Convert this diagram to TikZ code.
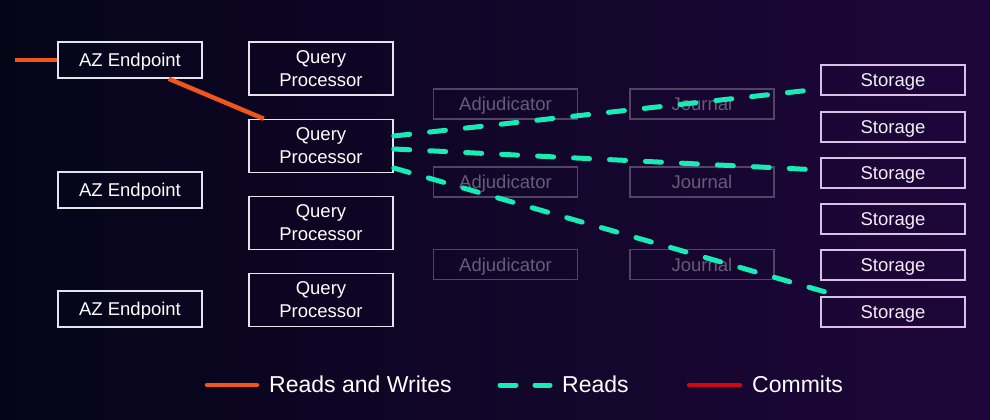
\documentclass[tikz,border=0pt]{standalone}
\usepackage{fontspec}
\setmainfont{Liberation Sans}
\definecolor{bgleft}{RGB}{5,5,24}
\definecolor{bgright}{RGB}{30,6,58}
\definecolor{boxline}{RGB}{228,228,238}
\definecolor{storline}{RGB}{218,192,228}
\definecolor{dimline}{RGB}{82,68,98}
\definecolor{dimtext}{RGB}{104,90,121}
\definecolor{rwcol}{RGB}{240,85,30}
\definecolor{readcol}{RGB}{25,235,180}
\definecolor{commitcol}{RGB}{205,10,20}
\tikzset{
  box/.style={draw=boxline, line width=1.5pt, text=white, minimum width=144pt,
    minimum height=36pt, inner sep=0pt, align=center, text depth=0pt,
    font=\fontsize{18.5}{23}\selectfont},
  qpbox/.style={box, minimum height=53pt},
  dimbox/.style={box, draw=dimline, text=dimtext, minimum height=30pt},
  storbox/.style={box, draw=storline, text={rgb,255:red,245;green,236;blue,248}, minimum height=30pt},
  rwline/.style={draw=rwcol, line width=4.5pt},
  readline/.style={draw=readcol, line width=5pt, line cap=round, dash pattern=on 16pt off 20pt},
  commitline/.style={draw=commitcol, line width=4.5pt},
  legtext/.style={text=white, anchor=west, inner sep=0pt, font=\fontsize{23}{26}\selectfont}
}
\begin{document}
\begin{tikzpicture}[x=1pt,y=-1pt]
\useasboundingbox (0,0) rectangle (990,420);
\shade[left color=bgleft, right color=bgright] (0,0) rectangle (990,420);

% AZ endpoints
\node[box] (az1) at (130,60) {AZ Endpoint};
\node[box] (az2) at (130,190) {AZ Endpoint};
\node[box] (az3) at (130,309) {AZ Endpoint};

% Query processors
\node[qpbox] (qp1) at (321,68.5) {Query\\Processor};
\node[qpbox] (qp2) at (321,146) {Query\\Processor};
\node[qpbox] (qp3) at (321,223) {Query\\Processor};
\node[qpbox] (qp4) at (321,300) {Query\\Processor};

% Adjudicators and journals
\node[dimbox] (adj1) at (505.5,104) {Adjudicator};
\node[dimbox] (adj2) at (505.5,182) {Adjudicator};
\node[dimbox] (adj3) at (505.5,264.5) {Adjudicator};
\node[dimbox] (jr1) at (702,104) {Journal};
\node[dimbox] (jr2) at (702,182) {Journal};
\node[dimbox] (jr3) at (702,264.5) {Journal};

% Storage
\node[storbox] (st1) at (893,80) {Storage};
\node[storbox] (st2) at (893,127) {Storage};
\node[storbox] (st3) at (893,173) {Storage};
\node[storbox] (st4) at (893,219) {Storage};
\node[storbox] (st5) at (893,265) {Storage};
\node[storbox] (st6) at (893,312) {Storage};

% Reads and writes
\coordinate (client) at (15,60);
\draw[rwline] (client) -- (az1.west);
\draw[rwline] ([xshift=-34pt]az1.south east) -- ([xshift=-130pt]qp2.north east);

% Reads
\draw[readline] ([yshift=10pt]qp2.east) -- ([yshift=-9pt]st1.west);
\draw[readline] ([yshift=-3pt]qp2.east) -- ([yshift=3pt]st3.west);
\draw[readline] ([yshift=-22pt]qp2.east) -- ([xshift=20pt]st6.north west);

% Legend
\coordinate (l1a) at (207,385);
\coordinate (l1b) at (257,385);
\coordinate (l2a) at (500,385);
\coordinate (l2b) at (550,385);
\coordinate (l3a) at (689,385);
\coordinate (l3b) at (740,385);
\draw[rwline, line cap=round] (l1a) -- (l1b);
\draw[readline, dash pattern=on 16pt off 19pt] (l2a) -- (l2b);
\draw[commitline, line cap=round] (l3a) -- (l3b);
\node[legtext] (t1) at (269,384) {Reads and Writes};
\node[legtext] (t2) at (562,384) {Reads};
\node[legtext] (t3) at (752,384) {Commits};
\end{tikzpicture}
\end{document}
